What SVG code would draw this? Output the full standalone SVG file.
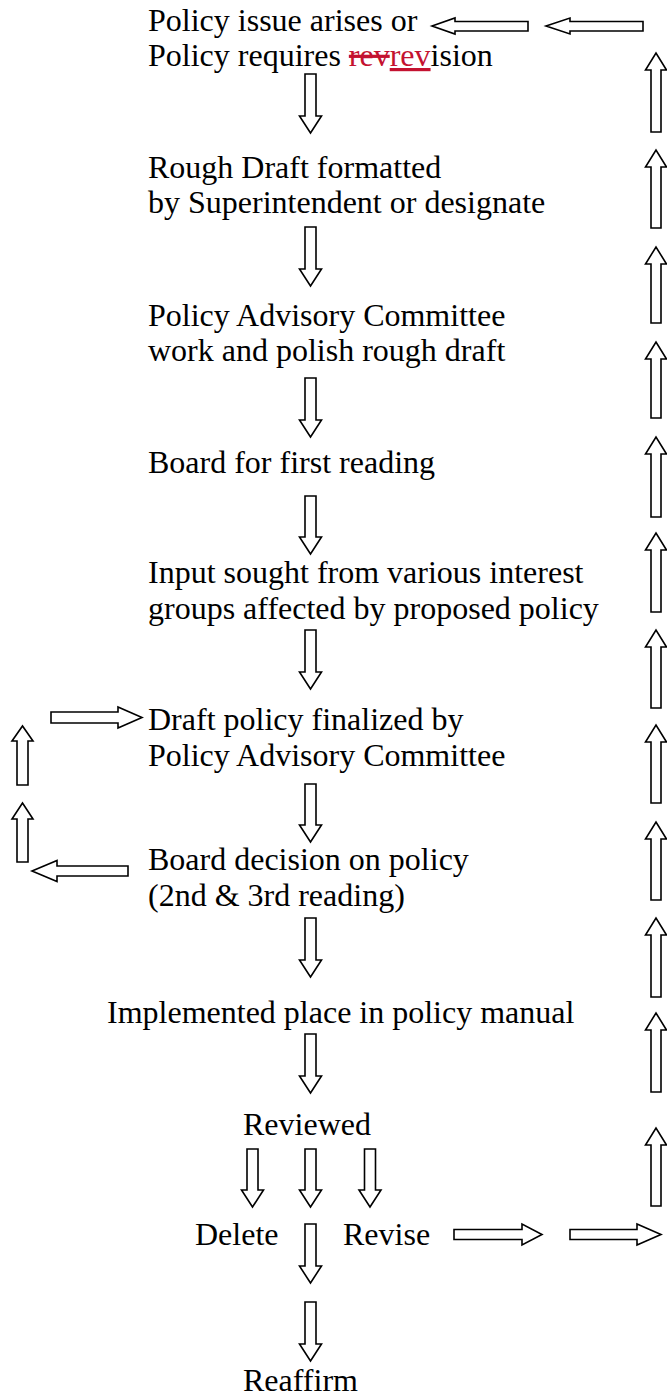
<svg xmlns="http://www.w3.org/2000/svg" width="667" height="1397" viewBox="0 0 667 1397">
<style>
text{font-family:"Liberation Serif","Times New Roman",serif;font-size:32px;fill:#000}
.arr{fill:#fff;stroke:#000;stroke-width:1.6;stroke-linejoin:miter}
.del{fill:#c41230;text-decoration:line-through}
.ins{fill:#c41230;text-decoration:underline}
</style>
<rect width="667" height="1397" fill="#fff"/>
<g id="n1"><text x="148" y="31">Policy issue arises or</text><text x="148" y="66">Policy requires <tspan class="del">rev</tspan><tspan class="ins">rev</tspan>ision</text></g>
<g id="n2"><text x="148" y="178">Rough Draft formatted</text><text x="148" y="213">by Superintendent or designate</text></g>
<g id="n3"><text x="148" y="326">Policy Advisory Committee</text><text x="148" y="361">work and polish rough draft</text></g>
<g id="n4"><text x="148" y="473">Board for first reading</text></g>
<g id="n5"><text x="148" y="583">Input sought from various interest</text><text x="148" y="619">groups affected by proposed policy</text></g>
<g id="n6"><text x="148" y="730">Draft policy finalized by</text><text x="148" y="766">Policy Advisory Committee</text></g>
<g id="n7"><text x="148" y="870">Board decision on policy</text><text x="148" y="906">(2nd &amp; 3rd reading)</text></g>
<g id="n8"><text x="107" y="1023">Implemented place in policy manual</text></g>
<g id="n9"><text x="243" y="1135">Reviewed</text></g>
<g id="n10"><text x="195" y="1245">Delete</text></g>
<g id="n11"><text x="343" y="1245">Revise</text></g>
<g id="n12"><text x="243" y="1391">Reaffirm</text></g>
<g id="connectors">
<polygon class="arr" points="432,26 455,18 455,21.5 528,21.5 528,31 455,31 455,34"/>
<polygon class="arr" points="546,26 570,18 570,21.5 643,21.5 643,31 570,31 570,34"/>
<polygon class="arr" points="305,74 316,74 316,116 321.5,116 310.5,133 299.5,116 305,116"/>
<polygon class="arr" points="305,227 316,227 316,269 321.5,269 310.5,286 299.5,269 305,269"/>
<polygon class="arr" points="305,378 316,378 316,420 321.5,420 310.5,437 299.5,420 305,420"/>
<polygon class="arr" points="305,496 316,496 316,537 321.5,537 310.5,554 299.5,537 305,537"/>
<polygon class="arr" points="305,630 316,630 316,672 321.5,672 310.5,689 299.5,672 305,672"/>
<polygon class="arr" points="305,784 316,784 316,825 321.5,825 310.5,842 299.5,825 305,825"/>
<polygon class="arr" points="305,918 316,918 316,960 321.5,960 310.5,977 299.5,960 305,960"/>
<polygon class="arr" points="305,1034 316,1034 316,1076 321.5,1076 310.5,1093 299.5,1076 305,1076"/>
<polygon class="arr" points="247,1149 258,1149 258,1190 263.5,1190 252.5,1207 241.5,1190 247,1190"/>
<polygon class="arr" points="305,1149 316,1149 316,1190 321.5,1190 310.5,1207 299.5,1190 305,1190"/>
<polygon class="arr" points="364.5,1149 375.5,1149 375.5,1190 381,1190 370,1207 359,1190 364.5,1190"/>
<polygon class="arr" points="305,1224 316,1224 316,1266 321.5,1266 310.5,1283 299.5,1266 305,1266"/>
<polygon class="arr" points="305,1302 316,1302 316,1344 321.5,1344 310.5,1361 299.5,1344 305,1344"/>
<polygon class="arr" points="454,1229.5 522,1229.5 522,1224 542,1234.5 522,1245 522,1239.5 454,1239.5"/>
<polygon class="arr" points="570,1229.5 637,1229.5 637,1224 661,1234.5 637,1245 637,1239.5 570,1239.5"/>
<polygon class="arr" points="51,712 118,712 118,707 142,717.5 118,728 118,723 51,723"/>
<polygon class="arr" points="17,785 17,741 12,741 22.5,726 33,741 28,741 28,785"/>
<polygon class="arr" points="17,862 17,819 12,819 22.5,803 33,819 28,819 28,862"/>
<polygon class="arr" points="32,871 57,860.5 57,866 128,866 128,876 57,876 57,881.5"/>
<polygon class="arr" points="651,132 651,70 645.5,70 656,53 666.5,70 661,70 661,132"/>
<polygon class="arr" points="651,228 651,167 645.5,167 656,150 666.5,167 661,167 661,228"/>
<polygon class="arr" points="651,323 651,264 645.5,264 656,247 666.5,264 661,264 661,323"/>
<polygon class="arr" points="651,418 651,359 645.5,359 656,342 666.5,359 661,359 661,418"/>
<polygon class="arr" points="651,517 651,454 645.5,454 656,437 666.5,454 661,454 661,517"/>
<polygon class="arr" points="651,612 651,550 645.5,550 656,533 666.5,550 661,550 661,612"/>
<polygon class="arr" points="651,708 651,647 645.5,647 656,630 666.5,647 661,647 661,708"/>
<polygon class="arr" points="651,803 651,742 645.5,742 656,725 666.5,742 661,742 661,803"/>
<polygon class="arr" points="651,900 651,839 645.5,839 656,822 666.5,839 661,839 661,900"/>
<polygon class="arr" points="651,997 651,935 645.5,935 656,918 666.5,935 661,935 661,997"/>
<polygon class="arr" points="651,1092 651,1030 645.5,1030 656,1013 666.5,1030 661,1030 661,1092"/>
<polygon class="arr" points="651,1206 651,1145 645.5,1145 656,1128 666.5,1145 661,1145 661,1206"/>
</g>
</svg>
